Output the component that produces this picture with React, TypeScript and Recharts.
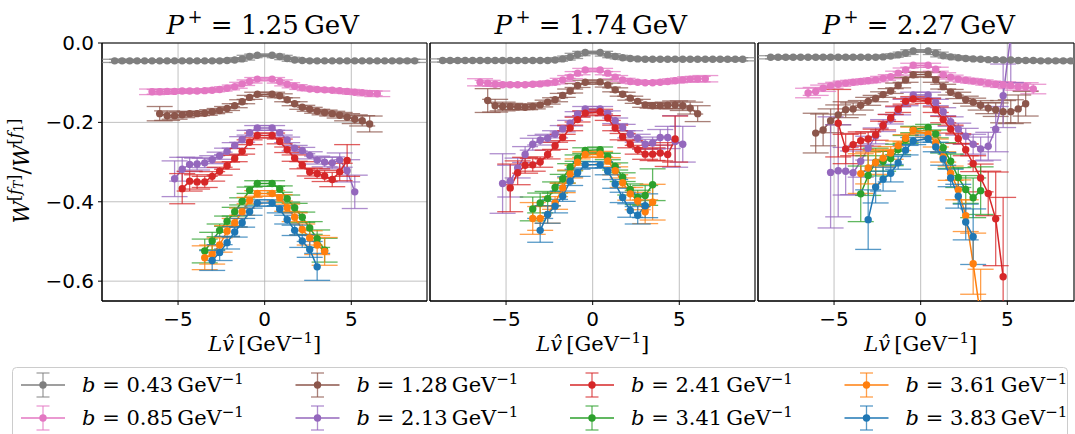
import React from 'react';
import { LineChart, Line, XAxis, YAxis, CartesianGrid, ErrorBar, ReferenceArea } from 'recharts';

// L*v-hat positions (GeV^-1) for n = -20..-1, 1..20 (lattice steps; n = 0 not shown)
const LV = [-8.66,-8.23,-7.79,-7.36,-6.93,-6.50,-6.06,-5.63,-5.20,-4.76,-4.33,-3.90,-3.46,-3.03,-2.60,-2.17,-1.73,-1.30,-0.87,-0.43,
  0.43,0.87,1.30,1.73,2.17,2.60,3.03,3.46,3.90,4.33,4.76,5.20,5.63,6.06,6.50,6.93,7.36,7.79,8.23,8.66];

const MOMENTA = ['1.25', '1.74', '2.27'];
const B_LABELS = ['0.43', '0.85', '1.28', '2.13', '2.41', '3.41', '3.61', '3.83'];
const COLORS = ['#7f7f7f', '#e377c2', '#8c564b', '#9467bd', '#d62728', '#2ca02c', '#ff7f0e', '#1f77b4'];
const X_TICKS = [-5, 0, 5];
const Y_TICKS = [-0.6, -0.4, -0.2, 0];

// ---------- P+ = 1.25 GeV ----------
const p1_gray = [-0.045,-0.045,-0.045,-0.045,-0.045,-0.045,-0.045,-0.045,-0.045,-0.045,-0.045,-0.045,-0.045,-0.045,-0.045,-0.044,-0.043,-0.040,-0.034,-0.031,
  -0.031,-0.034,-0.039,-0.043,-0.044,-0.045,-0.045,-0.045,-0.045,-0.045,-0.045,-0.045,-0.045,-0.045,-0.045,-0.045,-0.045,-0.045,-0.045,-0.045];
const p1_gray_err = [0.004,0.004,0.003,0.003,0.003,0.003,0.003,0.003,0.003,0.003,0.003,0.003,0.003,0.003,0.003,0.003,0.003,0.003,0.003,0.003,
  0.003,0.003,0.003,0.003,0.003,0.003,0.003,0.003,0.003,0.003,0.003,0.003,0.003,0.003,0.003,0.003,0.003,0.003,0.004,0.004];
const p1_pink = [-0.123,-0.123,-0.122,-0.122,-0.121,-0.121,-0.121,-0.120,-0.119,-0.117,-0.114,-0.110,-0.103,-0.097,-0.091,
  -0.091,-0.097,-0.104,-0.109,-0.113,-0.116,-0.117,-0.118,-0.119,-0.120,-0.122,-0.124,-0.125,-0.127,-0.128];
const p1_pink_err = [0.007,0.006,0.005,0.005,0.005,0.004,0.004,0.004,0.004,0.004,0.004,0.004,0.004,0.004,0.004,
  0.004,0.004,0.004,0.004,0.004,0.004,0.004,0.004,0.004,0.004,0.005,0.005,0.005,0.006,0.007];
const p1_brown = [-0.178,-0.183,-0.183,-0.181,-0.178,-0.178,-0.177,-0.173,-0.170,-0.165,-0.158,-0.148,-0.137,-0.129,
  -0.129,-0.133,-0.143,-0.153,-0.162,-0.167,-0.172,-0.175,-0.178,-0.182,-0.187,-0.192,-0.196,-0.204];
const p1_brown_err = [0.018,0.012,0.009,0.007,0.006,0.005,0.005,0.005,0.005,0.005,0.005,0.005,0.005,0.005,
  0.005,0.005,0.005,0.005,0.005,0.005,0.005,0.006,0.006,0.007,0.009,0.011,0.013,0.02];
const p1_purple = [-0.342,-0.318,-0.306,-0.305,-0.302,-0.294,-0.284,-0.273,-0.258,-0.243,-0.226,-0.214,
  -0.214,-0.226,-0.244,-0.265,-0.271,-0.283,-0.295,-0.300,-0.302,-0.295,-0.322,-0.375];
const p1_purple_err = [0.045,0.03,0.018,0.015,0.012,0.01,0.009,0.008,0.007,0.007,0.006,0.006,
  0.006,0.006,0.007,0.007,0.008,0.009,0.01,0.012,0.015,0.018,0.028,0.042];
const p1_red = [-0.367,-0.348,-0.350,-0.350,-0.336,-0.323,-0.309,-0.291,-0.273,-0.250,-0.233,
  -0.233,-0.248,-0.269,-0.290,-0.308,-0.325,-0.329,-0.335,-0.344,-0.325,-0.296];
const p1_red_err = [0.038,0.025,0.018,0.014,0.012,0.01,0.009,0.008,0.007,0.006,0.006,
  0.006,0.006,0.007,0.008,0.009,0.01,0.012,0.014,0.018,0.022,0.04];
const p1_green = [-0.524,-0.499,-0.472,-0.449,-0.425,-0.399,-0.371,-0.354,
  -0.354,-0.368,-0.392,-0.415,-0.439,-0.466,-0.493,-0.522];
const p1_green_err = [0.03,0.022,0.016,0.013,0.011,0.009,0.008,0.007,
  0.007,0.008,0.009,0.011,0.013,0.016,0.022,0.03];
const p1_orange = [-0.541,-0.533,-0.509,-0.474,-0.453,-0.425,-0.397,-0.379,
  -0.379,-0.390,-0.415,-0.439,-0.470,-0.491,-0.509,-0.525];
const p1_orange_err = [0.03,0.024,0.018,0.014,0.011,0.009,0.008,0.007,
  0.007,0.008,0.009,0.011,0.014,0.018,0.024,0.035];
const p1_blue = [-0.548,-0.528,-0.503,-0.476,-0.453,-0.425,-0.403,
  -0.403,-0.419,-0.445,-0.472,-0.499,-0.520,-0.564];
const p1_blue_err = [0.025,0.02,0.016,0.013,0.011,0.009,0.008,
  0.008,0.009,0.011,0.013,0.016,0.02,0.034];

// ---------- P+ = 1.74 GeV ----------
const p2_gray = [-0.044,-0.044,-0.044,-0.044,-0.044,-0.044,-0.044,-0.044,-0.044,-0.044,-0.044,-0.044,-0.044,-0.044,-0.044,-0.043,-0.040,-0.036,-0.029,-0.024,
  -0.024,-0.030,-0.034,-0.037,-0.039,-0.040,-0.041,-0.041,-0.041,-0.041,-0.041,-0.041,-0.041,-0.041,-0.041,-0.041,-0.041,-0.041,-0.041,-0.041];
const p2_gray_err = [0.004,0.004,0.003,0.003,0.003,0.003,0.003,0.003,0.003,0.003,0.003,0.003,0.003,0.003,0.003,0.003,0.003,0.003,0.003,0.003,
  0.003,0.003,0.003,0.003,0.003,0.003,0.003,0.003,0.003,0.003,0.003,0.003,0.003,0.003,0.003,0.003,0.003,0.003,0.004,0.004];
const p2_pink = [-0.099,-0.101,-0.104,-0.105,-0.105,-0.105,-0.105,-0.104,-0.103,-0.101,-0.099,-0.093,-0.086,-0.076,-0.068,
  -0.068,-0.076,-0.086,-0.093,-0.097,-0.099,-0.100,-0.100,-0.099,-0.097,-0.095,-0.093,-0.091,-0.091,-0.090];
const p2_pink_err = [0.009,0.007,0.005,0.005,0.004,0.004,0.004,0.004,0.004,0.004,0.004,0.004,0.004,0.004,0.004,
  0.004,0.004,0.004,0.004,0.004,0.004,0.004,0.004,0.004,0.004,0.005,0.005,0.006,0.007,0.008];
const p2_brown = [-0.145,-0.158,-0.160,-0.160,-0.161,-0.162,-0.160,-0.156,-0.149,-0.143,-0.132,-0.121,-0.107,-0.099,
  -0.098,-0.106,-0.118,-0.129,-0.139,-0.147,-0.156,-0.158,-0.158,-0.157,-0.156,-0.158,-0.164,-0.178];
const p2_brown_err = [0.03,0.016,0.011,0.008,0.007,0.006,0.006,0.005,0.005,0.005,0.005,0.005,0.005,0.005,
  0.005,0.005,0.005,0.005,0.005,0.005,0.006,0.006,0.007,0.008,0.01,0.012,0.015,0.02];
const p2_purple = [-0.354,-0.348,-0.315,-0.281,-0.255,-0.245,-0.240,-0.230,-0.216,-0.202,-0.179,-0.166,
  -0.166,-0.177,-0.196,-0.213,-0.230,-0.240,-0.255,-0.252,-0.238,-0.238,-0.248,-0.255];
const p2_purple_err = [0.075,0.04,0.025,0.02,0.015,0.012,0.01,0.009,0.008,0.007,0.006,0.006,
  0.006,0.006,0.007,0.008,0.009,0.01,0.012,0.015,0.02,0.028,0.065,0.045];
const p2_red = [-0.365,-0.327,-0.308,-0.307,-0.300,-0.281,-0.259,-0.238,-0.214,-0.193,-0.177,
  -0.173,-0.189,-0.214,-0.236,-0.255,-0.269,-0.280,-0.280,-0.277,-0.281,-0.242];
const p2_red_err = [0.06,0.03,0.02,0.016,0.013,0.011,0.009,0.008,0.007,0.006,0.006,
  0.006,0.006,0.007,0.008,0.009,0.011,0.013,0.016,0.02,0.03,0.058];
const p2_green = [-0.418,-0.403,-0.392,-0.364,-0.342,-0.313,-0.290,-0.271,
  -0.269,-0.286,-0.311,-0.338,-0.369,-0.389,-0.384,-0.357];
const p2_green_err = [0.03,0.025,0.018,0.014,0.011,0.009,0.008,0.007,
  0.007,0.008,0.009,0.011,0.014,0.018,0.025,0.04];
const p2_orange = [-0.442,-0.442,-0.432,-0.403,-0.365,-0.330,-0.300,-0.281,
  -0.280,-0.297,-0.322,-0.352,-0.380,-0.398,-0.425,-0.401];
const p2_orange_err = [0.04,0.03,0.022,0.016,0.012,0.01,0.008,0.007,
  0.007,0.008,0.01,0.012,0.016,0.022,0.03,0.045];
const p2_blue = [-0.472,-0.432,-0.411,-0.386,-0.348,-0.327,-0.307,
  -0.307,-0.323,-0.355,-0.389,-0.422,-0.434,-0.410];
const p2_blue_err = [0.03,0.022,0.017,0.013,0.011,0.009,0.008,
  0.008,0.009,0.011,0.013,0.017,0.022,0.03];

// ---------- P+ = 2.27 GeV ----------
const p3_gray = [-0.036,-0.036,-0.036,-0.036,-0.036,-0.036,-0.036,-0.036,-0.036,-0.036,-0.036,-0.036,-0.036,-0.036,-0.036,-0.035,-0.033,-0.030,-0.026,-0.020,
  -0.020,-0.026,-0.032,-0.035,-0.037,-0.039,-0.040,-0.041,-0.042,-0.042,-0.043,-0.043,-0.044,-0.044,-0.044,-0.045,-0.045,-0.045,-0.045,-0.045];
const p3_gray_err = [0.004,0.004,0.003,0.003,0.003,0.003,0.003,0.003,0.003,0.003,0.003,0.003,0.003,0.003,0.003,0.003,0.003,0.003,0.003,0.003,
  0.003,0.003,0.003,0.003,0.003,0.003,0.003,0.003,0.003,0.003,0.003,0.003,0.003,0.003,0.003,0.003,0.003,0.003,0.004,0.004];
const p3_pink = [-0.126,-0.122,-0.114,-0.108,-0.104,-0.101,-0.099,-0.097,-0.095,-0.093,-0.089,-0.085,-0.076,-0.068,-0.056,
  -0.056,-0.066,-0.080,-0.086,-0.091,-0.094,-0.096,-0.098,-0.101,-0.104,-0.105,-0.107,-0.110,-0.110,-0.116];
const p3_pink_err = [0.012,0.01,0.008,0.006,0.005,0.005,0.005,0.005,0.005,0.005,0.005,0.005,0.005,0.005,0.005,
  0.005,0.005,0.005,0.005,0.005,0.005,0.005,0.005,0.005,0.006,0.007,0.008,0.009,0.01,0.012];
const p3_brown = [-0.227,-0.219,-0.196,-0.181,-0.168,-0.166,-0.157,-0.147,-0.140,-0.130,-0.121,-0.107,-0.093,-0.080,
  -0.079,-0.093,-0.110,-0.124,-0.132,-0.143,-0.149,-0.157,-0.164,-0.168,-0.173,-0.173,-0.166,-0.153];
const p3_brown_err = [0.05,0.04,0.03,0.025,0.02,0.015,0.012,0.01,0.008,0.007,0.006,0.006,0.006,0.006,
  0.006,0.006,0.006,0.007,0.008,0.009,0.01,0.012,0.014,0.017,0.028,0.03,0.035,0.031];
const p3_purple = [-0.326,-0.322,-0.323,-0.327,-0.298,-0.265,-0.234,-0.208,-0.192,-0.171,-0.150,-0.131,
  -0.131,-0.150,-0.173,-0.198,-0.217,-0.235,-0.255,-0.267,-0.260,-0.217,-0.133,0.02];
const p3_purple_err = [0.14,0.116,0.06,0.055,0.04,0.03,0.02,0.015,0.012,0.01,0.008,0.007,
  0.007,0.008,0.01,0.012,0.015,0.02,0.025,0.03,0.035,0.057,0.08,0.12];
const p3_red = [-0.202,-0.267,-0.256,-0.246,-0.242,-0.231,-0.208,-0.189,-0.167,-0.147,-0.141,
  -0.146,-0.168,-0.193,-0.217,-0.241,-0.269,-0.304,-0.340,-0.379,-0.443,-0.589];
const p3_red_err = [0.085,0.037,0.028,0.022,0.018,0.014,0.011,0.009,0.008,0.007,0.006,
  0.006,0.007,0.008,0.01,0.012,0.015,0.02,0.035,0.056,0.118,0.2];
const p3_green = [-0.380,-0.334,-0.300,-0.298,-0.291,-0.268,-0.243,-0.218,
  -0.213,-0.229,-0.264,-0.298,-0.339,-0.369,-0.390,-0.372];
const p3_green_err = [0.07,0.05,0.035,0.025,0.018,0.013,0.01,0.008,
  0.008,0.01,0.013,0.018,0.025,0.035,0.05,0.06];
const p3_orange = [-0.329,-0.315,-0.301,-0.290,-0.277,-0.259,-0.240,-0.220,
  -0.229,-0.252,-0.287,-0.328,-0.370,-0.435,-0.556,-0.690];
const p3_orange_err = [0.05,0.04,0.03,0.022,0.016,0.012,0.009,0.008,
  0.008,0.01,0.013,0.018,0.025,0.04,0.077,0.12];
const p3_blue = [-0.445,-0.363,-0.343,-0.328,-0.302,-0.270,-0.247,
  -0.241,-0.262,-0.292,-0.340,-0.386,-0.451,-0.488];
const p3_blue_err = [0.075,0.04,0.03,0.022,0.016,0.012,0.009,
  0.009,0.012,0.016,0.022,0.03,0.045,0.07];

const PANEL1 = [[p1_gray, p1_gray_err], [p1_pink, p1_pink_err], [p1_brown, p1_brown_err], [p1_purple, p1_purple_err],
  [p1_red, p1_red_err], [p1_green, p1_green_err], [p1_orange, p1_orange_err], [p1_blue, p1_blue_err]];
const PANEL2 = [[p2_gray, p2_gray_err], [p2_pink, p2_pink_err], [p2_brown, p2_brown_err], [p2_purple, p2_purple_err],
  [p2_red, p2_red_err], [p2_green, p2_green_err], [p2_orange, p2_orange_err], [p2_blue, p2_blue_err]];
const PANEL3 = [[p3_gray, p3_gray_err], [p3_pink, p3_pink_err], [p3_brown, p3_brown_err], [p3_purple, p3_purple_err],
  [p3_red, p3_red_err], [p3_green, p3_green_err], [p3_orange, p3_orange_err], [p3_blue, p3_blue_err]];

function toRows(vals: number[], errs: number[]) {
  const half = vals.length / 2;
  const start = 20 - half;
  return vals.map((y, i) => ({ x: LV[start + i], y, e: errs[i] }));
}

const fmtX = (v: number) => (v < 0 ? '\u2212' + Math.abs(v) : String(v));
const fmtY = (v: number) => (v === 0 ? '0.0' : '\u2212' + Math.abs(v).toFixed(1));

const XMIN = -9.39;
const YMIN = -0.65;
const PLOT_TOP = 43;
const PLOT_H = 258;
const YW = 60;
const XH = 30;
const TICK_FONT = { fill: '#000', fontSize: 20, fontFamily: 'DejaVu Sans' };

function Panel({ left, plotW, xMax, series, showY }: any) {
  const W = YW + plotW + 2;
  const H = PLOT_TOP + PLOT_H + XH;
  const margin = { top: PLOT_TOP, right: 2, bottom: 0, left: 0 };
  return (
    <>
      {/* frame: grid, axes, spines */}
      <div style={{ position: 'absolute', left: left - YW, top: 0 }}>
        <LineChart width={W} height={H} margin={margin}>
          <CartesianGrid stroke="#b0b0b0" strokeWidth={0.8} />
          <XAxis type="number" dataKey="x" domain={[XMIN, xMax]} ticks={X_TICKS} interval={0} allowDataOverflow
            tickFormatter={fmtX} tick={TICK_FONT}
            tickLine={{ stroke: '#000' }} axisLine={{ stroke: '#000' }} tickSize={4} tickMargin={7} height={XH} />
          <YAxis type="number" domain={[YMIN, 0]} ticks={Y_TICKS} interval={0} allowDataOverflow width={YW}
            tickFormatter={fmtY} tick={showY ? TICK_FONT : false}
            tickLine={{ stroke: '#000' }} axisLine={{ stroke: '#000' }} tickSize={4} tickMargin={4} />
          <ReferenceArea x1={XMIN} x2={xMax} y1={YMIN} y2={0} fill="none" fillOpacity={0} stroke="#000" strokeWidth={1} ifOverflow="visible" />
        </LineChart>
      </div>
      {/* data, clipped to the plot area */}
      <div style={{ position: 'absolute', left: left - YW, top: 0, width: W, height: H,
        clipPath: `inset(${PLOT_TOP}px 2px ${XH}px ${YW}px)` }}>
        <LineChart width={W} height={H} margin={margin}>
          <XAxis type="number" dataKey="x" domain={[XMIN, xMax]} ticks={X_TICKS} allowDataOverflow
            tick={false} tickLine={false} axisLine={false} height={XH} />
          <YAxis type="number" domain={[YMIN, 0]} ticks={Y_TICKS} allowDataOverflow width={YW}
            tick={false} tickLine={false} axisLine={false} />
          {series.map((s: any, i: number) => (
            <Line key={i} data={toRows(s[0], s[1])} dataKey="y" type="linear" stroke={COLORS[i]} strokeWidth={1.5}
              dot={{ r: 3.7, fill: COLORS[i], stroke: COLORS[i], strokeWidth: 0 }} activeDot={false} isAnimationActive={false}>
              <ErrorBar dataKey="e" direction="y" width={13} stroke={COLORS[i]} strokeWidth={1.3} strokeOpacity={0.75} isAnimationActive={false} />
            </Line>
          ))}
        </LineChart>
      </div>
    </>
  );
}

const SERIF = 'DejaVu Serif';
const PANEL_CENTERS = [264.7, 592.7, 920.7];

function Overlay() {
  const rows = [385, 418];
  const colHandle = [21, 295.5, 570, 844.5];
  const colText = [82, 356.5, 631, 905.5];
  return (
    <svg width={1075} height={434} style={{ position: 'absolute', left: 0, top: 0, pointerEvents: 'none' }}>
      {MOMENTA.map((p, i) => (
        <text key={'t' + i} x={PANEL_CENTERS[i] - 2} y={34} textAnchor="middle" fontFamily={SERIF} fontSize={26} fill="#000">
          <tspan fontStyle="italic">P</tspan>
          <tspan fontSize={18} dy={-11}>{'\u2009+'}</tspan>
          <tspan dy={11}>{' = ' + p + '\u2009GeV'}</tspan>
        </text>
      ))}
      {MOMENTA.map((p, i) => (
        <text key={'x' + i} x={PANEL_CENTERS[i]} y={351} textAnchor="middle" fontFamily={SERIF} fontSize={21} fill="#000">
          <tspan fontStyle="italic">{'Lv\u0302'}</tspan>
          <tspan>{'\u2009[GeV'}</tspan>
          <tspan fontSize={15} dy={-8}>{'\u22121'}</tspan>
          <tspan dy={8}>]</tspan>
        </text>
      ))}
      <text transform="translate(29,171) rotate(-90)" textAnchor="middle" fontFamily={SERIF} fontSize={22} fill="#000">
        <tspan fontStyle="italic">W</tspan>
        <tspan fontSize={16} dy={-9}>[</tspan>
        <tspan fontSize={16} fontStyle="italic">f</tspan>
        <tspan fontSize={12} dy={3} fontStyle="italic">T</tspan>
        <tspan fontSize={16} dy={-3}>]</tspan>
        <tspan dy={9}>/</tspan>
        <tspan fontStyle="italic">W</tspan>
        <tspan fontSize={16} dy={-9}>[</tspan>
        <tspan fontSize={16} fontStyle="italic">f</tspan>
        <tspan fontSize={12} dy={3}>1</tspan>
        <tspan fontSize={16} dy={-3}>]</tspan>
      </text>
      <rect x={12.5} y={367.5} width={1055} height={80} rx={4} fill="#fff" fillOpacity={0.8} stroke="#cccccc" strokeWidth={1} />
      {B_LABELS.map((b, i) => {
        const col = Math.floor(i / 2);
        const row = i % 2;
        const y = rows[row];
        const hx = colHandle[col];
        const cx = hx + 22;
        const c = COLORS[i];
        return (
          <g key={'l' + i}>
            <line x1={hx} y1={y} x2={hx + 44} y2={y} stroke={c} strokeWidth={1.5} />
            <line x1={cx} y1={y - 12} x2={cx} y2={y + 12} stroke={c} strokeWidth={1.3} strokeOpacity={0.75} />
            <line x1={cx - 6.5} y1={y - 12} x2={cx + 6.5} y2={y - 12} stroke={c} strokeWidth={1.3} strokeOpacity={0.75} />
            <line x1={cx - 6.5} y1={y + 12} x2={cx + 6.5} y2={y + 12} stroke={c} strokeWidth={1.3} strokeOpacity={0.75} />
            <circle cx={cx} cy={y} r={3.7} fill={c} />
            <text x={colText[col]} y={y + 7} fontFamily={SERIF} fontSize={21} fill="#000">
              <tspan fontStyle="italic">b</tspan>
              <tspan>{' = ' + b + '\u2009GeV'}</tspan>
              <tspan fontSize={15} dy={-8}>{'\u22121'}</tspan>
            </text>
          </g>
        );
      })}
    </svg>
  );
}

export default function App() {
  return (
    <div style={{ position: 'absolute', left: 0, top: 0, width: 1075, height: 434, overflow: 'hidden', background: '#fff' }}>
      <Panel left={102} plotW={325} xMax={9.37} series={PANEL1} showY={true} />
      <Panel left={430} plotW={325} xMax={9.37} series={PANEL2} showY={false} />
      <Panel left={758} plotW={316} xMax={8.85} series={PANEL3} showY={false} />
      <Overlay />
    </div>
  );
}
